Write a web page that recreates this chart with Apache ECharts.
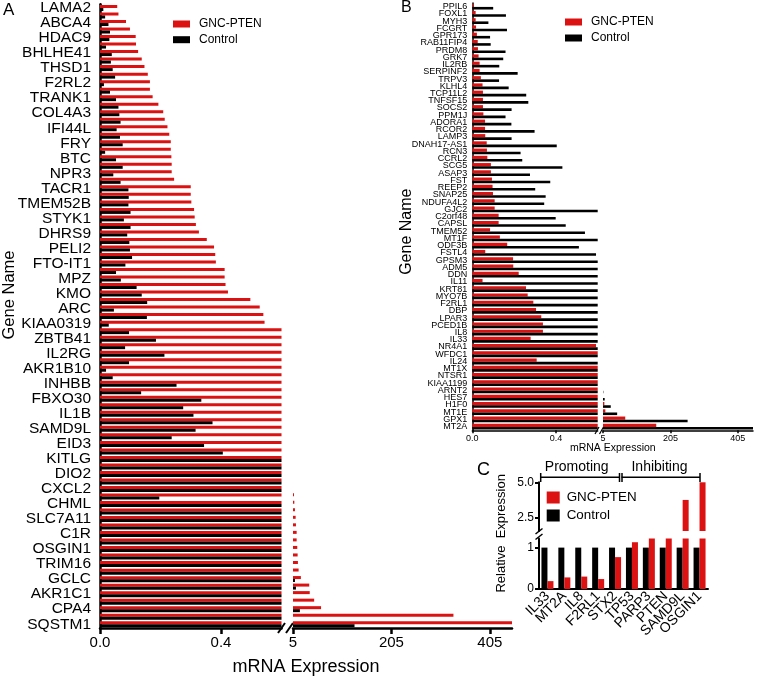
<!DOCTYPE html>
<html><head><meta charset="utf-8">
<script src="https://cdn.jsdelivr.net/npm/echarts@6/dist/echarts.min.js"></script>
<style>html,body{margin:0;padding:0;background:#fff}#c{width:757px;height:676px}</style>
</head><body><div id="c"></div>
<script>
// ---------- Panel A data (top to bottom; unlabeled rows are '') ----------
const genesA = ['LAMA2','','ABCA4','','HDAC9','','BHLHE41','','THSD1','','F2RL2','','TRANK1','','COL4A3','','IFI44L','','FRY','','BTC','','NPR3','','TACR1','','TMEM52B','','STYK1','','DHRS9','','PELI2','','FTO-IT1','','MPZ','','KMO','','ARC','','KIAA0319','','ZBTB41','','IL2RG','','AKR1B10','','INHBB','','FBXO30','','IL1B','','SAMD9L','','EID3','','KITLG','','DIO2','','CXCL2','','CHML','','SLC7A11','','C1R','','OSGIN1','','TRIM16','','GCLC','','AKR1C1','','CPA4','','SQSTM1'];
const gncA = [0.057,0.061,0.086,0.099,0.118,0.119,0.126,0.138,0.147,0.158,
  0.165,0.165,0.174,0.193,0.209,0.214,0.223,0.229,0.234,0.234,
  0.236,0.237,0.237,0.245,0.300,0.300,0.302,0.311,0.313,0.317,
  0.327,0.353,0.377,0.381,0.383,0.412,0.412,0.415,0.423,0.497,
  0.528,0.540,0.544,0.65,0.7,0.75,0.8,0.85,0.9,1.0,
  1.1,1.2,1.3,1.4,1.5,1.7,1.9,2.1,2.3,2.6,
  2.9,3.2,3.6,4.0,4.5,7,7.7,9,10.4,11,
  12.4,12.4,13.7,14.4,15,16.4,21,38,39,48,
  62,331,480];
const ctrlA = [0.011,0.017,0.028,0.033,0.031,0.020,0.039,0.036,0.042,0.050,
  0.013,0.033,0.053,0.061,0.064,0.068,0.055,0.066,0.075,0.017,
  0.053,0.075,0.044,0.068,0.094,0.095,0.094,0.101,0.079,0.101,
  0.090,0.097,0.099,0.106,0.084,0.053,0.069,0.121,0.138,0.156,
  0.046,0.155,0.029,0.096,0.185,0.083,0.213,0.096,0.020,0.042,
  0.253,0.136,0.335,0.275,0.309,0.372,0.316,0.237,0.344,0.406,
  0.8,1.1,1.4,1.8,2.2,0.196,1.2,1.5,0.9,1.3,
  2.0,1.6,2.5,1.1,3.0,2.4,9,11,3.5,4.2,
  19,2.8,130];
const ticksAL = [0, 0.4];
const ticksAR = [5, 205, 405];

// ---------- Panel B data ----------
const genesB = ['PPIL6','FOXL1','MYH3','FCGRT','GPR173','RAB11FIP4','PRDM8','GRK7','IL2RB','SERPINF2','TRPV3','KLHL4','TCP11L2','TNFSF15','SOCS2','PPM1J','ADORA1','RCOR2','LAMP3','DNAH17-AS1','RCN3','CCRL2','SCG5','ASAP3','FST','REEP2','SNAP25','NDUFA4L2','GJC2','C2orf48','CAPSL','TMEM52','MT1F','ODF3B','FSTL4','GPSM3','ADM5','DDN','IL11','KRT81','MYO7B','F2RL1','DBP','LPAR3','PCED1B','IL8','IL33','NR4A1','WFDC1','IL24','MT1X','NTSR1','KIAA1199','ARNT2','HES7','H1F0','MT1E','GPX1','MT2A'];
const gncB = [0.006,0.016,0.016,0.018,0.022,0.026,0.027,0.030,0.035,0.035,
  0.041,0.049,0.051,0.051,0.051,0.053,0.061,0.061,0.062,0.069,
  0.070,0.072,0.089,0.089,0.094,0.097,0.099,0.107,0.107,0.126,
  0.126,0.085,0.132,0.167,0.062,0.195,0.196,0.222,0.049,0.257,
  0.265,0.292,0.305,0.330,0.338,0.338,0.279,0.592,0.8,0.308,
  1.0,1.5,2.0,2.5,3.0,9,12,71,163];
const ctrlB = [0.100,0.161,0.077,0.166,0.085,0.088,0.159,0.148,0.129,0.217,
  0.128,0.174,0.258,0.268,0.188,0.159,0.187,0.298,0.188,0.404,
  0.231,0.239,0.431,0.276,0.373,0.301,0.351,0.344,1.0,0.399,
  0.447,0.539,1.2,0.510,0.592,0.9,1.1,1.3,1.5,1.7,
  1.9,2.1,2.3,2.5,2.7,2.9,3.1,3.3,3.5,3.7,
  3.9,4.2,4.5,6,10,28,47,256,480];

// ---------- Panel C data ----------
const genesC = ['IL33','MT2A','IL8','F2RL1','STX2','TP53','PARP3','PTEN','SAMD9L','OSGIN1'];
const gncC = [0.19,0.28,0.30,0.24,0.77,1.13,1.25,1.25,3.74,5.0];
const ctrlC = [1,1,1,1,1,1,1,1,1,1];
const ticksCLow = [0, 1];
const ticksCUp = [2.5, 5.0];

// ---------- build ----------
const RED = '#dc1111', BLK = '#000000';
const FONT = 'Liberation Sans, Arial, Helvetica, sans-serif';
const L_MAX = 0.6, R_MIN = 5, R_MAX = 450;
const C_LOW_MAX = 1.22, C_UP_MIN = 1.52, C_UP_MAX = 5.0;
const capMax = (a, mx) => a.map(v => Math.min(v, mx));
const above = (a, mn, mx) => a.map(v => v > mn ? Math.min(v, mx) : '-');

function valAxis(gi, min, max, ticks, fmt, lw, fs, tl, margin) {
  return {
    type: 'value', gridIndex: gi, min: min, max: max,
    axisLine: {show: true, lineStyle: {color: '#000', width: lw}},
    axisTick: {show: true, length: tl, lineStyle: {color: '#000', width: lw}, customValues: ticks},
    axisLabel: {customValues: ticks, formatter: fmt, color: '#000', fontSize: fs, fontFamily: FONT, margin: margin,
                showMinLabel: true, showMaxLabel: true},
    splitLine: {show: false}
  };
}
function hiddenCat(gi, data, inverse) {
  return {type: 'category', gridIndex: gi, data: data, inverse: inverse, show: false};
}
const f1 = v => Number(v).toFixed(1);
const f0 = v => String(v);

const option = {
  animation: false,
  backgroundColor: '#fff',
  textStyle: {fontFamily: FONT},
  grid: [
    {left: 100, top: 3, width: 181.5, height: 625},
    {left: 293, top: 3, width: 219, height: 625},
    {left: 472.3, top: 3, width: 125.4, height: 427.3},
    {left: 603, top: 3, width: 150, height: 427.3},
    {left: 539, top: 538.5, width: 169, height: 50.5},
    {left: 539, top: 482.3, width: 169, height: 48.7}
  ],
  xAxis: [
    valAxis(0, 0, L_MAX, ticksAL, f1, 2.5, 15, 6, 7),
    valAxis(1, R_MIN, R_MAX, ticksAR, f0, 2.5, 15, 6, 7),
    valAxis(2, 0, L_MAX, ticksAL, f1, 1.5, 9, 3, 4),
    valAxis(3, R_MIN, R_MAX, ticksAR, f0, 1.5, 9, 3, 4),
    {type: 'category', gridIndex: 4, data: genesC,
     axisLine: {lineStyle: {color: '#000', width: 2}},
     axisTick: {alignWithLabel: true, length: 4, lineStyle: {color: '#000', width: 2}},
     axisLabel: {rotate: 45, interval: 0, color: '#000', fontSize: 14, fontFamily: FONT, margin: 5}},
    hiddenCat(5, genesC, false)
  ],
  yAxis: [
    {type: 'category', gridIndex: 0, data: genesA, inverse: true,
     axisLine: {lineStyle: {color: '#000', width: 2.5}},
     axisTick: {alignWithLabel: true, interval: 1, length: 6, lineStyle: {color: '#000', width: 2.5}},
     axisLabel: {interval: 0, color: '#000', fontSize: 15.5, fontFamily: FONT, margin: 9}},
    hiddenCat(1, genesA, true),
    {type: 'category', gridIndex: 2, data: genesB, inverse: true,
     axisLine: {lineStyle: {color: '#000', width: 1.5}},
     axisTick: {alignWithLabel: true, interval: 0, length: 3, lineStyle: {color: '#000', width: 1.5}},
     axisLabel: {interval: 0, color: '#000', fontSize: 9, fontFamily: FONT, margin: 5}},
    hiddenCat(3, genesB, true),
    valAxis(4, 0, C_LOW_MAX, ticksCLow, f0, 2, 12, 4, 5),
    valAxis(5, C_UP_MIN, C_UP_MAX, ticksCUp, f1, 2, 12, 4, 5)
  ],
  legend: [
    {data: ['GNC-PTEN', 'Control'], orient: 'vertical', left: 173, top: 18, padding: 0, itemGap: 3.7,
     itemWidth: 17, itemHeight: 7, icon: 'rect', textStyle: {fontSize: 12, color: '#000', fontFamily: FONT, padding: [0,0,0,4]}},
    {data: ['GNC-PTEN', 'Control'], orient: 'vertical', left: 565, top: 16, padding: 0, itemGap: 4,
     itemWidth: 17, itemHeight: 7, icon: 'rect', textStyle: {fontSize: 12, color: '#000', fontFamily: FONT, padding: [0,0,0,4]}},
    {data: ['GNC-PTEN', 'Control'], orient: 'vertical', left: 546.7, top: 491, padding: 0, itemGap: 5,
     itemWidth: 13, itemHeight: 12, icon: 'rect', textStyle: {fontSize: 13.4, color: '#000', fontFamily: FONT, padding: [0,0,0,2]}}
  ],
  series: [
    // Panel A
    {name: 'GNC-PTEN', type: 'bar', xAxisIndex: 0, yAxisIndex: 0, data: capMax(gncA, L_MAX), barWidth: 3, barGap: '0%', itemStyle: {color: RED}, clip: true},
    {name: 'Control', type: 'bar', xAxisIndex: 0, yAxisIndex: 0, data: capMax(ctrlA, L_MAX), barWidth: 3, barGap: '0%', itemStyle: {color: BLK}, clip: true},
    {name: 'GNC-PTEN', type: 'bar', xAxisIndex: 1, yAxisIndex: 1, data: above(gncA, R_MIN, R_MAX), barWidth: 3, barGap: '0%', itemStyle: {color: RED}, clip: true},
    {name: 'Control', type: 'bar', xAxisIndex: 1, yAxisIndex: 1, data: above(ctrlA, R_MIN, R_MAX), barWidth: 3, barGap: '0%', itemStyle: {color: BLK}, clip: true},
    // Panel B
    {name: 'GNC-PTEN', type: 'bar', xAxisIndex: 2, yAxisIndex: 2, data: capMax(gncB, L_MAX), barWidth: 3.2, barGap: '0%', itemStyle: {color: RED}, clip: true},
    {name: 'Control', type: 'bar', xAxisIndex: 2, yAxisIndex: 2, data: capMax(ctrlB, L_MAX), barWidth: 2.6, barGap: '0%', itemStyle: {color: BLK}, clip: true},
    {name: 'GNC-PTEN', type: 'bar', xAxisIndex: 3, yAxisIndex: 3, data: above(gncB, R_MIN, R_MAX), barWidth: 3.2, barGap: '0%', itemStyle: {color: RED}, clip: true},
    {name: 'Control', type: 'bar', xAxisIndex: 3, yAxisIndex: 3, data: above(ctrlB, R_MIN, R_MAX), barWidth: 2.6, barGap: '0%', itemStyle: {color: BLK}, clip: true},
    // Panel C
    {name: 'Control', type: 'bar', xAxisIndex: 4, yAxisIndex: 4, data: capMax(ctrlC, C_LOW_MAX), barWidth: 6, barGap: '0%', itemStyle: {color: BLK}, clip: true},
    {name: 'GNC-PTEN', type: 'bar', xAxisIndex: 4, yAxisIndex: 4, data: capMax(gncC, C_LOW_MAX), barWidth: 6, barGap: '0%', itemStyle: {color: RED}, clip: true},
    {name: 'Control', type: 'bar', xAxisIndex: 5, yAxisIndex: 5, data: above(ctrlC, C_UP_MIN, C_UP_MAX), barWidth: 6, barGap: '0%', itemStyle: {color: BLK}, clip: true},
    {name: 'GNC-PTEN', type: 'bar', xAxisIndex: 5, yAxisIndex: 5, data: above(gncC, C_UP_MIN, C_UP_MAX), barWidth: 6, barGap: '0%', itemStyle: {color: RED}, clip: true}
  ],
  graphic: [
    {type: 'text', left: 3, top: 2, style: {text: 'A', font: '17px ' + FONT, fill: '#000'}},
    {type: 'text', left: 401, top: 0, style: {text: 'B', font: '16px ' + FONT, fill: '#000'}},
    {type: 'text', left: 477, top: 461, style: {text: 'C', font: '18px ' + FONT, fill: '#000'}},
    {type: 'text', x: 306, y: 667, style: {text: 'mRNA Expression', font: '18px ' + FONT, fill: '#000', align: 'center', verticalAlign: 'middle'}},
    {type: 'text', x: 9, y: 295, rotation: Math.PI / 2, style: {text: 'Gene Name', font: '16.5px ' + FONT, fill: '#000', align: 'center', verticalAlign: 'middle'}},
    {type: 'text', x: 612.8, y: 448.3, style: {text: 'mRNA Expression', font: '10.5px ' + FONT, fill: '#000', align: 'center', verticalAlign: 'middle'}},
    {type: 'text', x: 406.7, y: 231.7, rotation: Math.PI / 2, style: {text: 'Gene Name', font: '16px ' + FONT, fill: '#000', align: 'center', verticalAlign: 'middle'}},
    {type: 'text', x: 501.7, y: 533.3, rotation: Math.PI / 2, style: {text: 'Relative  Expression', font: '13px ' + FONT, fill: '#000', align: 'center', verticalAlign: 'middle'}},
    {type: 'line', shape: {x1: 278, y1: 633, x2: 285, y2: 623}, style: {stroke: '#000', lineWidth: 2}},
    {type: 'line', shape: {x1: 286, y1: 633, x2: 293, y2: 623}, style: {stroke: '#000', lineWidth: 2}},
    {type: 'line', shape: {x1: 595, y1: 434, x2: 599, y2: 427}, style: {stroke: '#000', lineWidth: 1.2}},
    {type: 'line', shape: {x1: 599.5, y1: 434, x2: 603.5, y2: 427}, style: {stroke: '#000', lineWidth: 1.2}},
    {type: 'line', shape: {x1: 535.5, y1: 534, x2: 542.5, y2: 528.5}, style: {stroke: '#000', lineWidth: 1.5}},
    {type: 'line', shape: {x1: 535.5, y1: 539.5, x2: 542.5, y2: 534}, style: {stroke: '#000', lineWidth: 1.5}},
    {type: 'line', shape: {x1: 540.7, y1: 477.3, x2: 620, y2: 477.3}, style: {stroke: '#000', lineWidth: 1.5}},
    {type: 'line', shape: {x1: 621.5, y1: 477.3, x2: 700, y2: 477.3}, style: {stroke: '#000', lineWidth: 1.5}},
    {type: 'line', shape: {x1: 540.7, y1: 473, x2: 540.7, y2: 482}, style: {stroke: '#000', lineWidth: 1.5}},
    {type: 'line', shape: {x1: 700, y1: 473, x2: 700, y2: 482}, style: {stroke: '#000', lineWidth: 1.5}},
    {type: 'line', shape: {x1: 619.5, y1: 473, x2: 619.5, y2: 482}, style: {stroke: '#000', lineWidth: 1.5}},
    {type: 'line', shape: {x1: 622, y1: 473, x2: 622, y2: 482}, style: {stroke: '#000', lineWidth: 1.5}},
    {type: 'text', x: 576.7, y: 467, style: {text: 'Promoting', font: '14px ' + FONT, fill: '#000', align: 'center', verticalAlign: 'middle'}},
    {type: 'text', x: 659.5, y: 467, style: {text: 'Inhibiting', font: '14px ' + FONT, fill: '#000', align: 'center', verticalAlign: 'middle'}}
  ]
};
const chart = echarts.init(document.getElementById('c'), null, {renderer: 'canvas'});
chart.setOption(option);
</script>
</body></html>
